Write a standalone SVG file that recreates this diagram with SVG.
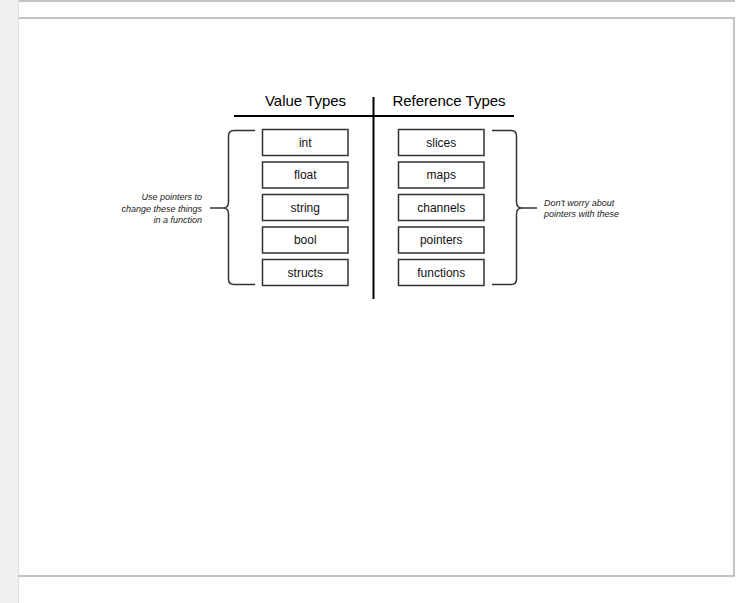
<svg xmlns="http://www.w3.org/2000/svg" width="740" height="603" viewBox="0 0 740 603">
<style>
.box rect{fill:#fff;stroke:#333;stroke-width:1.5}
.box text{font-family:"Liberation Sans",Arial,sans-serif;font-size:12px;fill:#111;text-anchor:middle}
.hdr{font-family:"Liberation Sans",Arial,sans-serif;font-size:15px;fill:#000;text-anchor:middle}
.note{font-family:"Liberation Sans",Arial,sans-serif;font-size:9px;font-style:italic;fill:#222}
.brace{fill:none;stroke:#333;stroke-width:1.5}
.rule{stroke:#000;stroke-width:2}
</style>
<rect x="0" y="0" width="740" height="603" fill="#fff"/>
<rect x="0" y="0" width="18" height="603" fill="#f0f0f0"/>
<line x1="18.5" y1="0" x2="18.5" y2="603" stroke="#dcdcdc" stroke-width="1"/>
<rect x="19" y="0" width="716" height="2" fill="#c4c4c4"/>
<path d="M19,18 H734 V576 H19" fill="none" stroke="#c4c4c4" stroke-width="2"/>

<g id="headers">
<text class="hdr" x="305.5" y="106">Value Types</text>
<text class="hdr" x="449" y="106">Reference Types</text>
<line class="rule" x1="234" y1="116" x2="514" y2="116"/>
<line class="rule" x1="373.5" y1="97" x2="373.5" y2="299"/>
</g>

<g id="int" class="box"><rect x="262.5" y="129.5" width="85.5" height="26"/><text x="305.25" y="146.5">int</text></g>
<g id="float" class="box"><rect x="262.5" y="162" width="85.5" height="26"/><text x="305.25" y="179">float</text></g>
<g id="string" class="box"><rect x="262.5" y="194.5" width="85.5" height="26"/><text x="305.25" y="211.5">string</text></g>
<g id="bool" class="box"><rect x="262.5" y="227" width="85.5" height="26"/><text x="305.25" y="244">bool</text></g>
<g id="structs" class="box"><rect x="262.5" y="259.5" width="85.5" height="26"/><text x="305.25" y="276.5">structs</text></g>

<g id="slices" class="box"><rect x="398.5" y="129.5" width="85.5" height="26"/><text x="441.25" y="146.5">slices</text></g>
<g id="maps" class="box"><rect x="398.5" y="162" width="85.5" height="26"/><text x="441.25" y="179">maps</text></g>
<g id="channels" class="box"><rect x="398.5" y="194.5" width="85.5" height="26"/><text x="441.25" y="211.5">channels</text></g>
<g id="pointers" class="box"><rect x="398.5" y="227" width="85.5" height="26"/><text x="441.25" y="244">pointers</text></g>
<g id="functions" class="box"><rect x="398.5" y="259.5" width="85.5" height="26"/><text x="441.25" y="276.5">functions</text></g>

<g id="left-note">
<text class="note" text-anchor="end" x="202" y="200">Use pointers to</text>
<text class="note" text-anchor="end" x="202" y="211.5">change these things</text>
<text class="note" text-anchor="end" x="202" y="223">in a function</text>
</g>
<g id="right-note">
<text class="note" x="544" y="206">Don't worry about</text>
<text class="note" x="544" y="217">pointers with these</text>
</g>

<g id="connectors">
<path class="brace" d="M255,130.5 H234 Q228.5,130.5 228.5,136 V202 Q228.5,208 223,208 Q228.5,208 228.5,214 V279 Q228.5,284.5 234,284.5 H255"/>
<line class="brace" x1="210" y1="208" x2="223" y2="208"/>
<path class="brace" d="M492,130.5 H511 Q516.5,130.5 516.5,136 V202 Q516.5,208 522,208 Q516.5,208 516.5,214 V279 Q516.5,284.5 511,284.5 H492"/>
<line class="brace" x1="522" y1="208" x2="537" y2="208"/>
</g>
</svg>
